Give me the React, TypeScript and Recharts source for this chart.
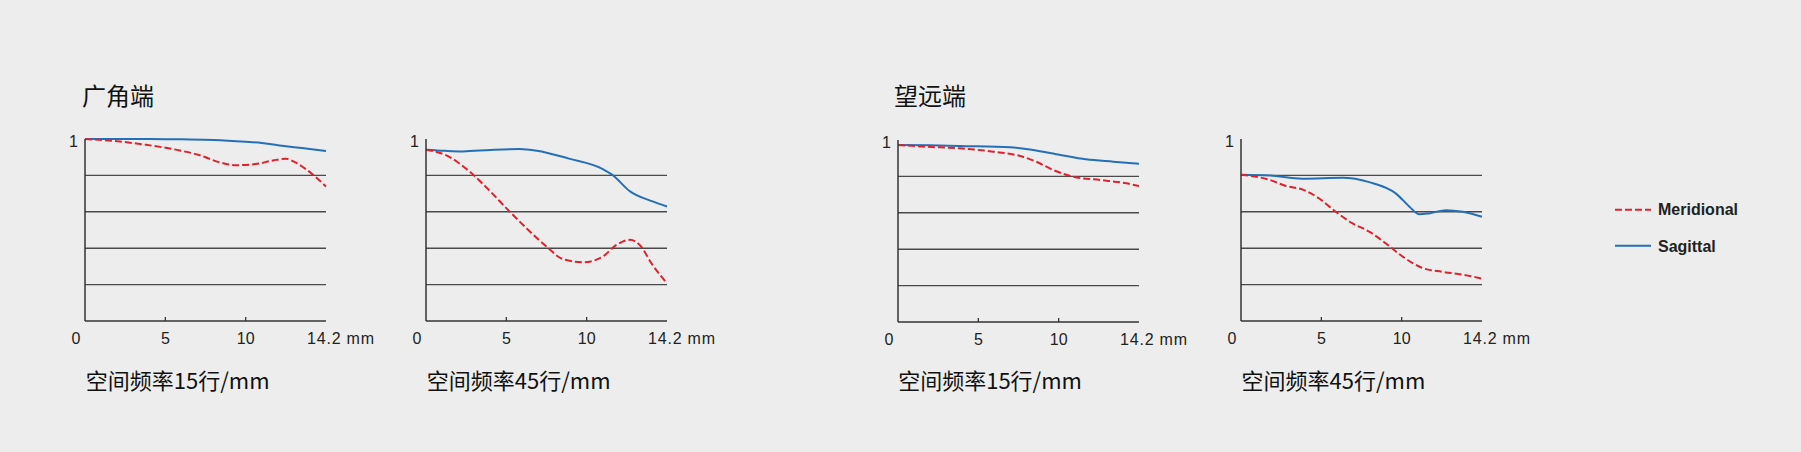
import React from 'react';
import { LineChart, Line, XAxis, YAxis, ReferenceLine } from 'recharts';

// ---- axis definitions ----
const xTicks = [0, 5, 10, 15];
const xTickLabels = ['0', '5', '10', '14.2 mm'];
const yTicks = [1];
const yTickLabels = ['1'];
const gridValues = [0.2, 0.4, 0.6, 0.8];

// ---- titles ----
const groupTitles = ['广角端', '望远端'];
const chartSubtitles = ['空间频率15行/mm', '空间频率45行/mm', '空间频率15行/mm', '空间频率45行/mm'];
const legendNames = ['Meridional', 'Sagittal'];

// ---- data: wide end, 15 lp/mm ----
const sag1 = [
  { x: 0, v: 1.0 }, { x: 2, v: 1.0 }, { x: 4, v: 1.0 }, { x: 6, v: 0.998 },
  { x: 8, v: 0.995 }, { x: 10, v: 0.985 }, { x: 11, v: 0.978 }, { x: 12, v: 0.966 },
  { x: 13.5, v: 0.95 }, { x: 15, v: 0.934 },
];
const mer1 = [
  { x: 0, v: 1.0 }, { x: 1.7, v: 0.99 }, { x: 3.8, v: 0.968 }, { x: 5.9, v: 0.937 },
  { x: 7.1, v: 0.912 }, { x: 8.4, v: 0.871 }, { x: 9.4, v: 0.856 }, { x: 10.6, v: 0.862 },
  { x: 11.7, v: 0.882 }, { x: 12.5, v: 0.892 }, { x: 13.1, v: 0.871 }, { x: 14.2, v: 0.803 },
  { x: 15, v: 0.739 },
];

// ---- data: wide end, 45 lp/mm ----
const sag2 = [
  { x: 0, v: 0.941 }, { x: 1.2, v: 0.935 }, { x: 2.3, v: 0.932 }, { x: 4, v: 0.94 },
  { x: 5.8, v: 0.945 }, { x: 6.9, v: 0.936 }, { x: 8.9, v: 0.892 }, { x: 11, v: 0.835 },
  { x: 11.6, v: 0.803 }, { x: 12.7, v: 0.712 }, { x: 14.1, v: 0.657 }, { x: 15, v: 0.629 },
];
const mer2 = [
  { x: 0, v: 0.941 }, { x: 1.27, v: 0.91 }, { x: 2.7, v: 0.822 }, { x: 3.8, v: 0.73 },
  { x: 5.2, v: 0.602 }, { x: 6.25, v: 0.51 }, { x: 7.5, v: 0.409 }, { x: 8.5, v: 0.341 },
  { x: 9.8, v: 0.323 }, { x: 11, v: 0.354 }, { x: 11.85, v: 0.418 }, { x: 12.7, v: 0.446 },
  { x: 13.3, v: 0.418 }, { x: 14.1, v: 0.308 }, { x: 15, v: 0.207 },
];

// ---- data: tele end, 15 lp/mm ----
const sag3 = [
  { x: 0, v: 0.973 }, { x: 2, v: 0.971 }, { x: 3.86, v: 0.967 }, { x: 7, v: 0.96 },
  { x: 8.4, v: 0.945 }, { x: 10.1, v: 0.918 }, { x: 11.7, v: 0.894 }, { x: 13.4, v: 0.881 },
  { x: 15, v: 0.87 },
];
const mer3 = [
  { x: 0, v: 0.973 }, { x: 1.78, v: 0.963 }, { x: 3.86, v: 0.954 }, { x: 5.93, v: 0.936 },
  { x: 7.6, v: 0.912 }, { x: 8.6, v: 0.881 }, { x: 9.66, v: 0.835 }, { x: 10.9, v: 0.798 },
  { x: 12.6, v: 0.78 }, { x: 14.2, v: 0.762 }, { x: 15, v: 0.747 },
];

// ---- data: tele end, 45 lp/mm ----
const sag4 = [
  { x: 0, v: 0.804 }, { x: 1.76, v: 0.8 }, { x: 3.84, v: 0.782 }, { x: 6.33, v: 0.787 },
  { x: 7.98, v: 0.763 }, { x: 9.65, v: 0.7 }, { x: 10.5, v: 0.627 }, { x: 11.1, v: 0.586 },
  { x: 11.7, v: 0.591 }, { x: 12.76, v: 0.609 }, { x: 13.8, v: 0.6 }, { x: 15, v: 0.573 },
];
const mer4 = [
  { x: 0, v: 0.804 }, { x: 1.76, v: 0.776 }, { x: 2.8, v: 0.742 }, { x: 3.84, v: 0.722 },
  { x: 4.87, v: 0.673 }, { x: 5.9, v: 0.6 }, { x: 6.95, v: 0.536 }, { x: 7.98, v: 0.491 },
  { x: 9, v: 0.427 }, { x: 10.06, v: 0.354 }, { x: 11.3, v: 0.291 }, { x: 12.55, v: 0.27 },
  { x: 13.8, v: 0.255 }, { x: 15, v: 0.233 },
];

const RED = '#e3202c';
const BLUE = '#2470b8';
const AXIS = '#333333';
const GRID = '#4a4a4a';
const BG = '#ededed';
const LATIN = '"Liberation Sans", Arial, Helvetica, sans-serif';
const CJK = '"Noto Sans CJK SC", "Noto Sans", sans-serif';

const PLOT_W = 241;
const PLOT_H = 182;
const M_LEFT = 40;
const M_TOP = 20;
const M_RIGHT = 80;
const M_BOTTOM = 40;

const XTick = (props: any) => {
  const { x, y, payload } = props;
  const v = payload.value;
  const label = xTickLabels[xTicks.indexOf(v)];
  let tx = x;
  let anchor: 'middle' | 'start' = 'middle';
  if (v === 0) tx = x - 9;
  if (v === 15) {
    tx = x - 19;
    anchor = 'start';
  }
  return (
    <g>
      {v > 0 && v < 15 && (
        <line x1={x} x2={x} y1={y} y2={y - 4} stroke={AXIS} strokeWidth={1.3} />
      )}
      <text
        x={tx}
        y={y + 23}
        textAnchor={anchor}
        fontSize={16}
        fill="#222"
        fontFamily={LATIN}
        letterSpacing={v === 15 ? 0.8 : 0}
      >
        {label}
      </text>
    </g>
  );
};

const YTick = (props: any) => {
  const { x, y, payload } = props;
  const label = yTickLabels[yTicks.indexOf(payload.value)];
  return (
    <text x={x} y={y + 8} textAnchor="end" fontSize={16} fill="#222" fontFamily={LATIN}>
      {label}
    </text>
  );
};

type ChartProps = {
  plotLeft: number;
  plotTop: number;
  mer: { x: number; v: number }[];
  sag: { x: number; v: number }[];
};

const MtfChart = ({ plotLeft, plotTop, mer, sag }: ChartProps) => (
  <div style={{ position: 'absolute', left: plotLeft - M_LEFT, top: plotTop - M_TOP }}>
    <LineChart
      width={M_LEFT + PLOT_W + M_RIGHT}
      height={M_TOP + PLOT_H + M_BOTTOM}
      margin={{ top: M_TOP, right: M_RIGHT, bottom: 0, left: 0 }}
    >
      <XAxis
        dataKey="x"
        type="number"
        domain={[0, 15]}
        ticks={xTicks}
        interval={0}
        height={M_BOTTOM}
        tickSize={0}
        tickMargin={0}
        tickLine={false}
        axisLine={{ stroke: AXIS, strokeWidth: 1.5 }}
        tick={<XTick />}
        allowDuplicatedCategory={false}
      />
      <YAxis
        type="number"
        domain={[0, 1]}
        ticks={yTicks}
        width={M_LEFT}
        tickSize={0}
        tickMargin={7}
        tickLine={false}
        axisLine={{ stroke: AXIS, strokeWidth: 1.5 }}
        tick={<YTick />}
      />
      {gridValues.map((g) => (
        <ReferenceLine key={g} y={g} stroke={GRID} strokeWidth={1.4} ifOverflow="extendDomain" />
      ))}
      <Line
        data={sag}
        dataKey="v"
        type="monotone"
        stroke={BLUE}
        strokeWidth={2}
        dot={false}
        activeDot={false}
        isAnimationActive={false}
      />
      <Line
        data={mer}
        dataKey="v"
        type="monotone"
        stroke={RED}
        strokeWidth={2}
        strokeDasharray="7 3"
        dot={false}
        activeDot={false}
        isAnimationActive={false}
      />
    </LineChart>
  </div>
);

const charts = [
  { plotLeft: 85.3, plotTop: 139.3, mer: mer1, sag: sag1 },
  { plotLeft: 426.3, plotTop: 139.3, mer: mer2, sag: sag2 },
  { plotLeft: 897.7, plotTop: 139.8, mer: mer3, sag: sag3 },
  { plotLeft: 1241, plotTop: 139.3, mer: mer4, sag: sag4 },
];

export default function App() {
  return (
    <div style={{ position: 'relative', width: 1801, height: 452, background: BG, overflow: 'hidden' }}>
      <style>{`html,body{margin:0;padding:0;background:${BG};}`}</style>
      <svg
        width={1801}
        height={452}
        style={{ position: 'absolute', left: 0, top: 0 }}
      >
        <text x={82} y={104.5} fontSize={24} fontFamily={CJK} fill="#111">{groupTitles[0]}</text>
        <text x={894} y={104.5} fontSize={24} fontFamily={CJK} fill="#111">{groupTitles[1]}</text>
        {charts.map((c, i) => (
          <text key={i} x={c.plotLeft + 0.5} y={388.5} fontSize={22} fontFamily={CJK} fill="#111">
            {chartSubtitles[i]}
          </text>
        ))}
        <line x1={1615} x2={1651} y1={209.7} y2={209.7} stroke={RED} strokeWidth={2} strokeDasharray="7 3" />
        <text x={1658} y={214.5} fontSize={16} fontWeight="bold" fontFamily={LATIN} fill="#222">{legendNames[0]}</text>
        <line x1={1615} x2={1651} y1={245.7} y2={245.7} stroke={BLUE} strokeWidth={2} />
        <text x={1658} y={251.5} fontSize={16} fontWeight="bold" fontFamily={LATIN} fill="#222">{legendNames[1]}</text>
      </svg>
      {charts.map((c, i) => (
        <MtfChart key={i} {...c} />
      ))}
    </div>
  );
}
